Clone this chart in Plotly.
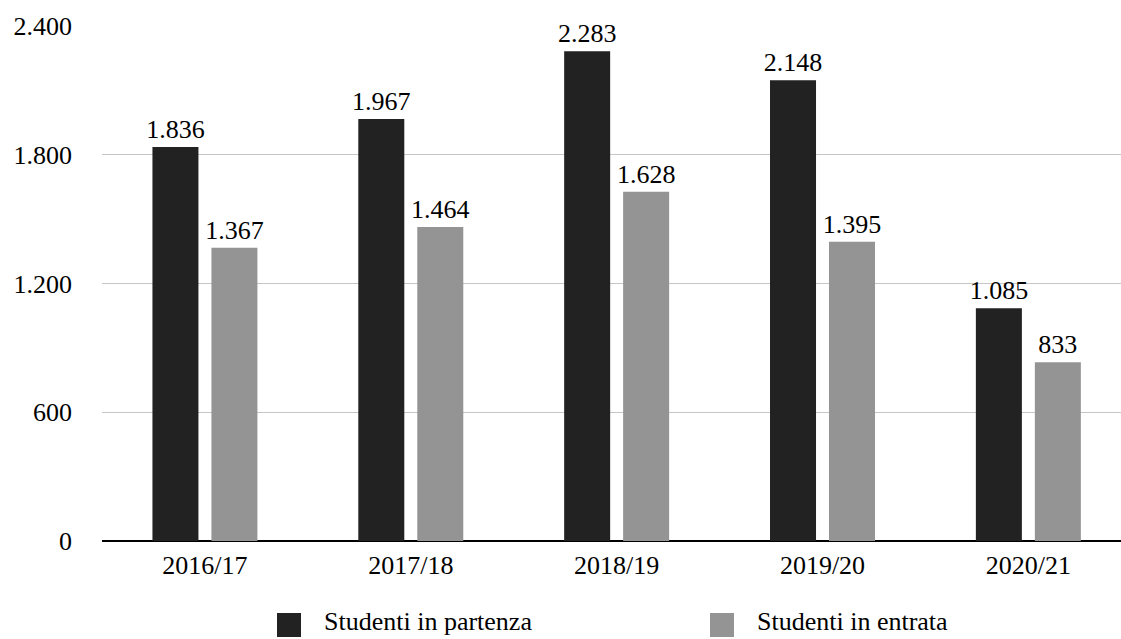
import plotly.graph_objects as go

# Academic years and student mobility counts
anni = ["2016/17", "2017/18", "2018/19", "2019/20", "2020/21"]
in_partenza = [1836, 1967, 2283, 2148, 1085]
in_entrata = [1367, 1464, 1628, 1395, 833]

serie_nomi = ["Studenti in partenza", "Studenti in entrata"]
colori = ["#222222", "#949494"]

y_ticks = [0, 600, 1200, 1800, 2400]

W, H = 1121, 639
M_L, M_R, M_T, M_B = 102, 0, 26, 98
FONT = "'Liberation Serif', 'Times New Roman', Times, serif"
FS = 26

fig = go.Figure()
for nome, valori, colore in zip(serie_nomi, [in_partenza, in_entrata], colori):
    fig.add_trace(go.Bar(
        x=anni, y=valori, name=nome,
        marker=dict(color=colore, line=dict(width=0)),
        texttemplate="%{y:,}", textposition="outside", constraintext="none",
        textfont=dict(family=FONT, size=FS, color="#000000"),
        cliponaxis=False, showlegend=False,
    ))

fig.update_layout(
    width=W, height=H,
    margin=dict(l=M_L, r=M_R, t=M_T, b=M_B, pad=0),
    paper_bgcolor="white", plot_bgcolor="white",
    separators=",.",
    barmode="group", bargap=0.427, bargroupgap=0.22,
    font=dict(family=FONT, size=FS, color="#000000"),
    xaxis=dict(
        range=[-0.5, 4.45], showgrid=False, showline=False, zeroline=False,
        ticks="", ticklabelstandoff=6,
        tickfont=dict(family=FONT, size=FS, color="#000000"),
    ),
    yaxis=dict(
        range=[0, 2400.5], tickvals=y_ticks, tickformat=",d",
        showgrid=True, gridcolor="#c6c6c6", gridwidth=1,
        zeroline=True, zerolinecolor="#000000", zerolinewidth=2,
        showline=False, ticks="", ticklabelstandoff=29,
        tickfont=dict(family=FONT, size=FS, color="#000000"),
    ),
)

# Legend drawn below the plot: square swatch followed by the series name
plot_w = W - M_L - M_R
plot_h = H - M_T - M_B


def px_x(px):
    return (px - M_L) / plot_w


def px_y(py):
    return (H - M_B - py) / plot_h


legenda_x = [277, 710]
for x0, nome, colore in zip(legenda_x, serie_nomi, colori):
    fig.add_shape(
        type="rect", xref="paper", yref="paper",
        x0=px_x(x0), x1=px_x(x0 + 24), y0=px_y(637), y1=px_y(613),
        fillcolor=colore, line=dict(width=0),
    )
    fig.add_annotation(
        xref="paper", yref="paper", x=px_x(x0 + 46), y=px_y(637),
        xanchor="left", yanchor="bottom", showarrow=False, borderpad=0,
        text=nome, font=dict(family=FONT, size=FS, color="#000000"),
    )

fig.write_html("out.html")
